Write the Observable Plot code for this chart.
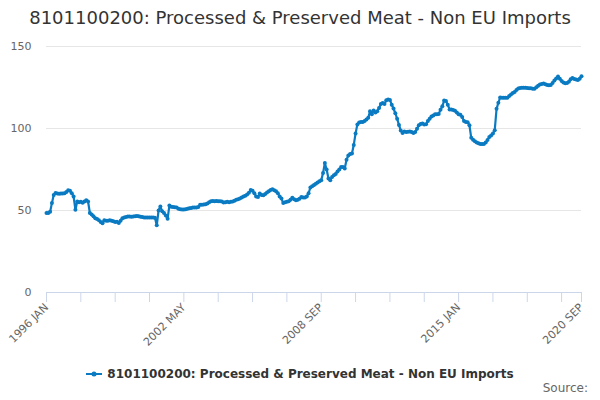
<!DOCTYPE html>
<html>
<head>
<meta charset="utf-8">
<script src="https://cdn.jsdelivr.net/npm/d3@7"></script>
<script src="https://cdn.jsdelivr.net/npm/@observablehq/plot@0.6"></script>
<style>
  html, body { margin: 0; padding: 0; background: #fff; }
  body { width: 600px; height: 400px; overflow: hidden; font-family: "DejaVu Sans", sans-serif; position: relative; }
  #title { height: 36px; line-height: 36px; text-align: center; font-size: 18px; color: #333; white-space: nowrap; }
  #chart { height: 320px; }
  #legend { position: absolute; left: 0; width: 600px; top: 366px; height: 18px; text-align: center; font-size: 12px; font-weight: bold; color: #333; white-space: nowrap; }
  #legend svg { vertical-align: middle; margin-right: 5px; }
  #legend span { vertical-align: middle; }
  #source { position: absolute; right: 12px; top: 381px; font-size: 12px; color: #666; }
</style>
</head>
<body>
<div id="title">8101100200: Processed &amp; Preserved Meat - Non EU Imports</div>
<div id="chart"></div>
<div id="legend"><svg width="16" height="10"><line x1="0" y1="5" x2="16" y2="5" stroke="#0a7bc2" stroke-width="2"/><circle cx="8" cy="5" r="2.5" fill="#0a7bc2"/></svg><span>8101100200: Processed &amp; Preserved Meat - Non EU Imports</span></div>
<div id="source">Source:</div>
<script>
const seriesName = "8101100200: Processed & Preserved Meat - Non EU Imports";
const startYear = 1996;
const monthNames = ["JAN","FEB","MAR","APR","MAY","JUN","JUL","AUG","SEP","OCT","NOV","DEC"];
const values = [
  48.5,48.5,49.2,54.5,59.5,60.7,60.4,60.2,60.4,60.3,60.5,61.3,
  62.3,62,60.5,58.5,50.5,55.5,55,55.3,54.8,55.5,56.3,55.5,
  48.5,47.5,46.5,45.2,44.8,44,43,42.2,44,43.8,43.8,44,
  43.8,43.5,43,43.2,42.4,43.8,45.2,45.7,46,46.3,46.3,46.2,
  46.3,46.5,46.6,46.5,46.2,46,45.8,45.8,45.8,45.8,45.8,45.7,
  45.6,41,50,52.5,49.5,48.5,47,45,53,52.3,52.2,52,
  51.8,51,50.8,50.6,50.6,50.8,51,51.3,51.6,51.8,51.8,51.9,
  52.2,53.5,53.5,53.6,53.8,54.2,55,55.6,55.8,55.7,55.8,55.7,
  55.6,55.5,54.9,55,55.3,55,55.3,55.5,56,56.5,56.8,57.3,
  58,58.5,59,59.8,60.8,62.5,62,60.5,58.5,58.3,60.3,59.5,
  59.3,60,61,61.8,62.5,63,62.3,61.8,60.5,58.5,57.3,54.5,
  55,55.3,55.6,56.5,57.8,56.8,56.3,56.5,57.2,58.2,58,57.9,
  58.5,60.5,64,64.8,65.5,66.3,67,67.8,68.5,72.8,79,75,
  69.5,68.5,70.5,71.5,72.3,73.8,75,76.5,76.5,75.6,81,83.5,
  84.5,84.8,90,97,102.5,103.7,104,104,104.5,105.5,106.5,110.5,
  108.7,111,109.8,110.5,112.5,115,115.5,115,117.3,117.7,117.4,114.5,
  112.2,109.3,106,102.2,98.8,97.3,98.2,97.8,98,98.2,97.9,97.3,
  97.8,99.8,102,102.8,103,102.5,102.6,104.5,106,107.3,108,108.7,
  108.7,108.9,111.5,113.5,117,116.8,114.5,111.6,111.6,111.3,110.8,109.8,
  108.7,108.4,107,104.5,104,103.8,102,94.3,93.2,92.3,91.5,91,
  90.6,90.5,90.6,91.5,93,94.8,95.8,97,99,112,115.7,118.9,
  118.8,118.7,118.7,118.8,119.8,120.8,121.7,122.3,123.5,124.4,124.7,124.8,
  124.8,124.8,124.7,124.6,124.5,124.2,124.3,125.2,126,126.8,127.1,127.4,
  127,126.6,126.4,126.6,127.8,129.2,130.5,131.7,130.3,129,128,127.6,
  127.8,128.5,130,130.8,130.2,129.9,129.5,130.3,131.9
];
const yTicks = [0, 50, 100, 150];
const minorTickStep = 19;
const labelTickStep = 76;

const monthLabel = i => `${startYear + Math.floor(i / 12)} ${monthNames[i % 12]}`;
const data = values.map((v, i) => ({i, v}));
const last = values.length - 1;
const tickIdx = d3.range(0, last + 1, minorTickStep).concat([last]);
const labelIdx = d3.range(0, last + 1, labelTickStep).concat([last]);
const color = "#0a7bc2";

const chart = Plot.plot({
  width: 600,
  height: 320,
  marginTop: 10,
  marginBottom: 64,
  marginLeft: 46,
  marginRight: 19,
  style: {fontFamily: "DejaVu Sans, sans-serif", fontSize: "11px", color: "#666", background: "#fff"},
  x: {type: "linear", domain: [0, last]},
  y: {domain: [0, 150]},
  marks: [
    Plot.gridY(yTicks, {stroke: "#e6e6e6", strokeOpacity: 1}),
    Plot.axisY({ticks: yTicks, tickSize: 0, tickPadding: 15, label: null, fill: "#666", fontSize: 11}),
    Plot.ruleY([0], {stroke: "#ccd6eb"}),
    Plot.axisX({ticks: tickIdx, tickSize: 10, tickFormat: () => "", stroke: "#ccd6eb", strokeOpacity: 1, label: null}),
    Plot.axisX({ticks: labelIdx, tickSize: 0, tickPadding: 13, tickRotate: -45, tickFormat: monthLabel, label: null, fill: "#666", fontSize: 11}),
    Plot.line(data, {x: "i", y: "v", stroke: color, strokeWidth: 2.2}),
    Plot.dot(data, {x: "i", y: "v", fill: color, r: 2})
  ]
});
document.getElementById("chart").appendChild(chart);
</script>
</body>
</html>
